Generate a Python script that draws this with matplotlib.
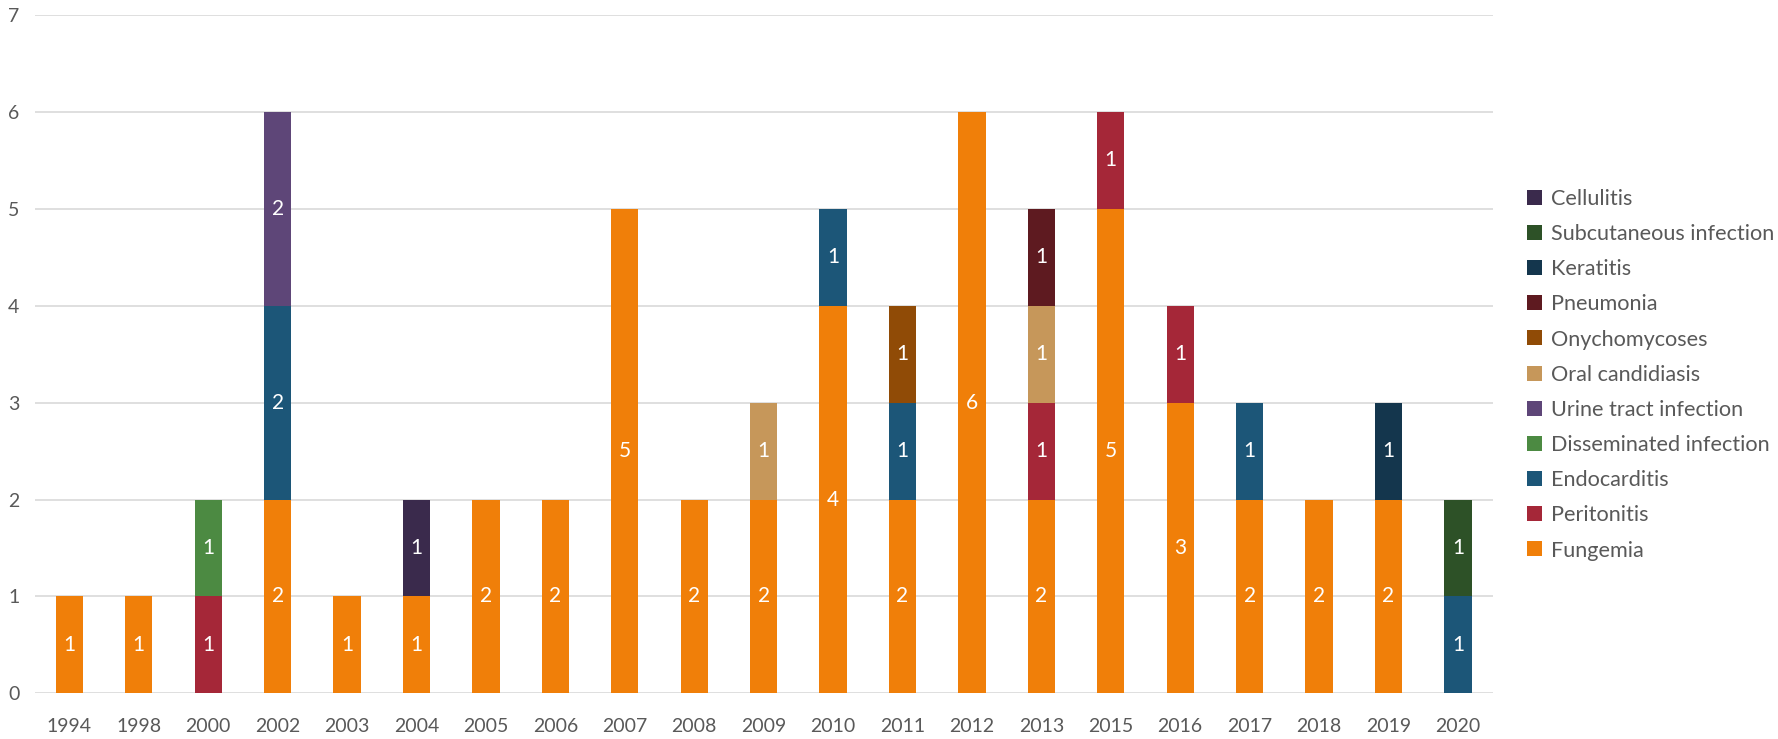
import matplotlib
matplotlib.use("Agg")
import matplotlib.pyplot as plt
import numpy as np

years = ["1994", "1998", "2000", "2002", "2003", "2004", "2005", "2006", "2007", "2008",
         "2009", "2010", "2011", "2012", "2013", "2015", "2016", "2017", "2018", "2019", "2020"]

fungemia      = [1, 1, 0, 2, 1, 1, 2, 2, 5, 2, 2, 4, 2, 6, 2, 5, 3, 2, 2, 2, 0]
peritonitis   = [0, 0, 1, 0, 0, 0, 0, 0, 0, 0, 0, 0, 0, 0, 1, 1, 1, 0, 0, 0, 0]
endocarditis  = [0, 0, 0, 2, 0, 0, 0, 0, 0, 0, 0, 1, 1, 0, 0, 0, 0, 1, 0, 0, 1]
disseminated  = [0, 0, 1, 0, 0, 0, 0, 0, 0, 0, 0, 0, 0, 0, 0, 0, 0, 0, 0, 0, 0]
urine_tract   = [0, 0, 0, 2, 0, 0, 0, 0, 0, 0, 0, 0, 0, 0, 0, 0, 0, 0, 0, 0, 0]
oral_cand     = [0, 0, 0, 0, 0, 0, 0, 0, 0, 0, 1, 0, 0, 0, 1, 0, 0, 0, 0, 0, 0]
onychomycoses = [0, 0, 0, 0, 0, 0, 0, 0, 0, 0, 0, 0, 1, 0, 0, 0, 0, 0, 0, 0, 0]
pneumonia     = [0, 0, 0, 0, 0, 0, 0, 0, 0, 0, 0, 0, 0, 0, 1, 0, 0, 0, 0, 0, 0]
keratitis     = [0, 0, 0, 0, 0, 0, 0, 0, 0, 0, 0, 0, 0, 0, 0, 0, 0, 0, 0, 1, 0]
subcutaneous  = [0, 0, 0, 0, 0, 0, 0, 0, 0, 0, 0, 0, 0, 0, 0, 0, 0, 0, 0, 0, 1]
cellulitis    = [0, 0, 0, 0, 0, 1, 0, 0, 0, 0, 0, 0, 0, 0, 0, 0, 0, 0, 0, 0, 0]

series_names = ["Fungemia", "Peritonitis", "Endocarditis", "Disseminated infection",
                "Urine tract infection", "Oral candidiasis", "Onychomycoses", "Pneumonia",
                "Keratitis", "Subcutaneous infection", "Cellulitis"]
series_values = [fungemia, peritonitis, endocarditis, disseminated, urine_tract, oral_cand,
                 onychomycoses, pneumonia, keratitis, subcutaneous, cellulitis]
series_colors = ["#F07F09", "#A52738", "#1C5678", "#4C8A42", "#5E4678", "#C6975A",
                 "#904B06", "#5E1A20", "#14364D", "#2D5127", "#3A2A4C"]

plt.rcParams['font.family'] = ['Lato', 'DejaVu Sans']

fig = plt.figure(figsize=(17.78, 7.39), dpi=100)
ax = fig.add_axes([0.01946, 0.0618, 0.8395 - 0.01946, 0.9797 - 0.0618])

x = np.arange(len(years))
bottom = np.zeros(len(years))
handles = []
for name, vals, col in zip(series_names, series_values, series_colors):
    v = np.array(vals, dtype=float)
    bars = ax.bar(x, v, 0.393, bottom=bottom, color=col, label=name, zorder=3)
    handles.append(bars)
    for xi, b, vi in zip(x, bottom, v):
        if vi > 0:
            ax.text(xi, b + vi / 2, f"{int(vi)}", ha='center', va='center',
                    color='white', fontsize=15, zorder=4)
    bottom += v

ax.set_xlim(-0.5, len(years) - 0.5)
ax.set_ylim(0, 7)
ax.set_yticks(range(0, 8))
ax.set_xticks(x)
ax.set_xticklabels(years)
ax.tick_params(axis='both', length=0, labelsize=14, labelcolor='#595959')
ax.tick_params(axis='x', pad=18)
ax.tick_params(axis='y', pad=11)
for s in ax.spines.values():
    s.set_visible(False)
ax.yaxis.grid(True, color='#D9D9D9', linewidth=1.2, zorder=0)
ax.set_axisbelow(True)

leg = fig.legend(handles[::-1], series_names[::-1], loc='center left',
                 bbox_to_anchor=(0.859, 0.493), frameon=False, fontsize=15.6,
                 handlelength=0.69, handleheight=0.69, handletextpad=0.4,
                 labelspacing=0.70, borderpad=0, borderaxespad=0)
for t in leg.get_texts():
    t.set_color('#595959')

fig.savefig("out.png", dpi=100)
